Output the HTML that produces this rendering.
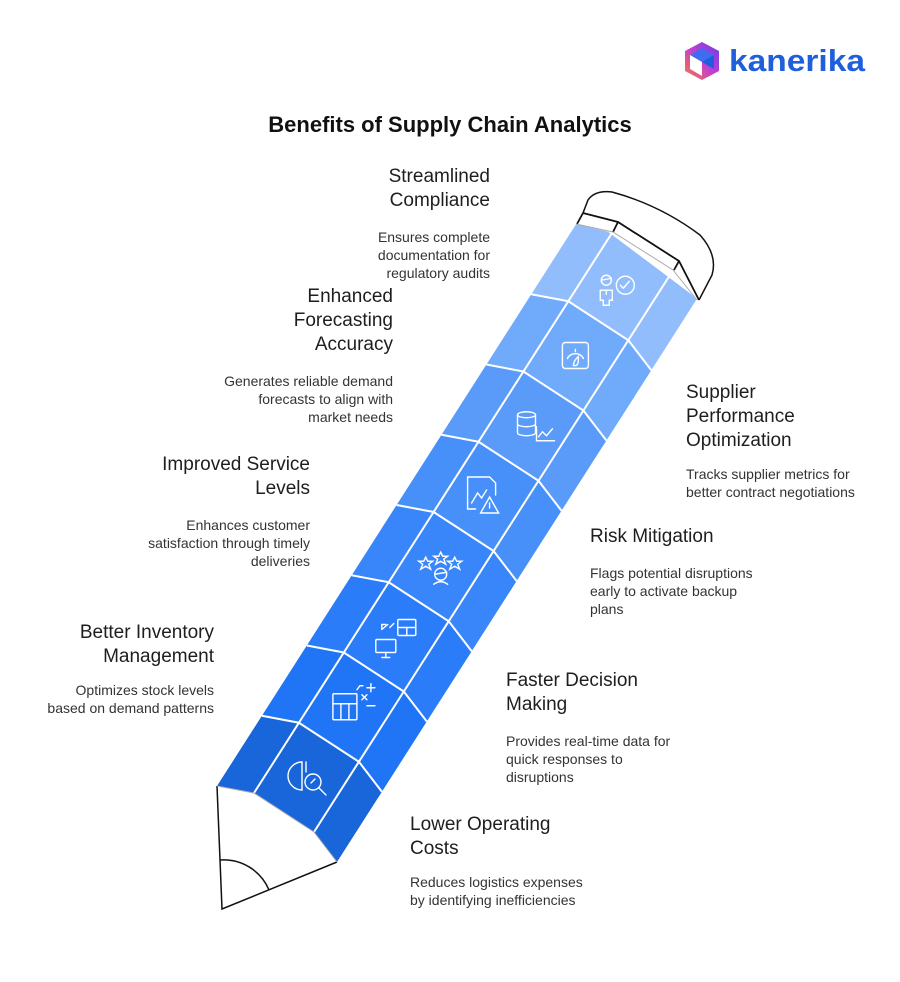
<!DOCTYPE html>
<html><head><meta charset="utf-8"><style>
body{margin:0;width:900px;height:982px;background:#fff;position:relative;overflow:hidden;font-family:"Liberation Sans",sans-serif;color:#222}
.h{position:absolute;font-size:19px;line-height:24px;color:#1e1e1e;white-space:nowrap}
.d{position:absolute;font-size:14px;line-height:18px;color:#333;white-space:nowrap}
.r{text-align:right}
</style></head><body>
<svg width="900" height="982" style="position:absolute;left:0;top:0">
<defs>
<linearGradient id="lg" x1="0" y1="1" x2="1" y2="0"><stop offset="0" stop-color="#ff7a3c"/><stop offset="0.5" stop-color="#c13fd0"/><stop offset="1" stop-color="#6a3ee8"/></linearGradient>
<polygon id="seg" points="217,786 254,793 314,832 337,862 381.9,791.75 358.9,761.75 298.9,722.75 261.9,715.75"/>
</defs>
<!-- logo -->
<polygon points="702,42 719,51 719,71 702,80 685,71 685,51" fill="url(#lg)"/>
<polygon points="702,48 714,55 714,69 702,62" fill="#1f5de0"/>
<polygon points="702,48 690,55 702,62 714,55" fill="#3f6cf0"/>
<polygon points="690,55 702,62 702,76 690,69" fill="#fff"/>
<text x="729" y="71" font-family="Liberation Sans,sans-serif" font-size="31" font-weight="bold" fill="#1f5fdc" textLength="136" lengthAdjust="spacingAndGlyphs">kanerika</text>
<text x="450" y="132" text-anchor="middle" font-family="Liberation Sans,sans-serif" font-size="22" font-weight="bold" fill="#111">Benefits of Supply Chain Analytics</text>
<!-- tip -->
<polygon points="217,786 254,793 314,832 337,862 222,909" fill="#fff"/>
<path d="M217,786 L222,909 L337,862" fill="none" stroke="#111" stroke-width="1.5"/>
<path d="M220,860 A49,49 0 0 1 269,890" fill="none" stroke="#111" stroke-width="1.5"/>
<!-- body segments -->
<use href="#seg" fill="#1866da"/>
<use href="#seg" fill="#1f75f5" transform="translate(44.9,-70.25)"/>
<use href="#seg" fill="#2a7cf8" transform="translate(89.8,-140.5)"/>
<use href="#seg" fill="#3886fa" transform="translate(134.7,-210.75)"/>
<use href="#seg" fill="#4890f9" transform="translate(179.6,-281)"/>
<use href="#seg" fill="#5a9bfa" transform="translate(224.5,-351.25)"/>
<use href="#seg" fill="#70aafb" transform="translate(269.4,-421.5)"/>
<use href="#seg" fill="#92bdfc" transform="translate(314.3,-491.75)"/>
<g stroke="#fff" stroke-width="2" fill="none">
<line x1="254" y1="793" x2="613.2" y2="231"/>
<line x1="314" y1="832" x2="673.2" y2="270"/>
<g id="cl"><polyline points="261.9,715.75 298.9,722.75 358.9,761.75 381.9,791.75"/></g>
<use href="#cl" transform="translate(44.9,-70.25)"/>
<use href="#cl" transform="translate(89.8,-140.5)"/>
<use href="#cl" transform="translate(134.7,-210.75)"/>
<use href="#cl" transform="translate(179.6,-281)"/>
<use href="#cl" transform="translate(224.5,-351.25)"/>
<use href="#cl" transform="translate(269.4,-421.5)"/>
</g>
<polyline points="217,786 254,793 314,832 337,862" fill="none" stroke="#aaa" stroke-width="1"/>
<!-- eraser -->
<polygon points="576,224 583,213 618,222 679,261 699,300 697,300 673,270 613,233" fill="#fff"/>
<path d="M583,213 L588,200 Q595,190 612,192 Q660,205 700,235 Q718,255 712,275 L699,300" fill="#fff" stroke="#111" stroke-width="1.5"/>
<g stroke="#111" stroke-width="1.8" fill="none">
<polyline points="583,213 618,222 679,261 699,300"/>
<line x1="583" y1="213" x2="577" y2="224"/><line x1="618" y1="222" x2="613" y2="232"/><line x1="679" y1="261" x2="674" y2="270"/>
</g>
<polyline points="576,224 613,232 673,270 697,300" fill="none" stroke="#aaa" stroke-width="1"/>
<!-- icons -->
<g stroke="#fff" stroke-width="1.4" fill="none" stroke-linecap="round">
<g><path d="M302,762 A14,14 0 1 0 302,790 Z M306,762 L306,772"/><circle cx="313" cy="782" r="8"/><line x1="319" y1="788" x2="326" y2="795"/><line x1="311" y1="783" x2="315" y2="779"/></g>
<g transform="translate(44.9,-70.25)"><rect x="288" y="764" width="24" height="26" rx="1"/><line x1="288" y1="774" x2="312" y2="774"/><line x1="296" y1="774" x2="296" y2="790"/><line x1="304" y1="774" x2="304" y2="790"/><path d="M312,760 l3,-4 l3,0 M317,765 l5,5 M322,765 l-5,5 M322,758 h8 M326,754 v8 M322,776 h8"/></g>
<g transform="translate(89.8,-140.5)"><path d="M292,770 l6,-5 M296,765 h-4 v4 M304,764 l-4,4"/><rect x="308" y="760" width="18" height="16" rx="1"/><line x1="308" y1="768" x2="326" y2="768"/><line x1="317" y1="768" x2="317" y2="776"/><rect x="286" y="780" width="20" height="13" rx="1"/><line x1="296" y1="793" x2="296" y2="798"/><line x1="292" y1="798" x2="300" y2="798"/></g>
<g transform="translate(134.7,-210.75)"><path d="M291,768 l2,4 l5,0 l-4,3 l2,5 l-5,-3 l-5,3 l2,-5 l-4,-3 l5,0 z M306,763 l2,4 l5,0 l-4,3 l2,5 l-5,-3 l-5,3 l2,-5 l-4,-3 l5,0 z M320,768 l2,4 l5,0 l-4,3 l2,5 l-5,-3 l-5,3 l2,-5 l-4,-3 l5,0 z"/><circle cx="306" cy="785" r="6"/><line x1="300" y1="785" x2="312" y2="783"/><path d="M299,795 Q306,790 313,795"/></g>
<g transform="translate(179.6,-281)"><path d="M296,790 h-8 v-32 h22 l6,6 v12"/><path d="M292,784 l6,-10 l4,5 l5,-8"/><path d="M310,778 l9,16 h-18 z M310,784 v5"/></g>
<g transform="translate(224.5,-351.25)"><ellipse cx="302" cy="766" rx="9" ry="3"/><path d="M293,766 v18 a9,3 0 0 0 18,0 v-18 M293,775 a9,3 0 0 0 18,0"/><path d="M312,778 v14 h18 M314,788 l4,-5 l4,4 l6,-7"/></g>
<g transform="translate(269.4,-421.5)"><rect x="293" y="764" width="26" height="26" rx="3"/><path d="M298,780 a9,9 0 0 1 16,0 M306,771 v2"/><path d="M304,787 c0,-5 5,-9 5,-9 c0,5 0,9 -3,9 z"/></g>
<g transform="translate(314.3,-491.75)"><circle cx="292" cy="772" r="5"/><line x1="287" y1="772" x2="297" y2="770"/><path d="M286,792 v-10 h12 v10 h-3 v5 h-6 v-5 z M292,782 v4"/><circle cx="311" cy="777" r="9"/><path d="M306,777 l3,3 l6,-7"/></g>
</g>
</svg>
<div class="h r" style="right:410px;top:165px">Streamlined<br>Compliance</div>
<div class="d r" style="right:410px;top:228px">Ensures complete<br>documentation for<br>regulatory audits</div>
<div class="h r" style="right:507px;top:285px">Enhanced<br>Forecasting<br>Accuracy</div>
<div class="d r" style="right:507px;top:372px">Generates reliable demand<br>forecasts to align with<br>market needs</div>
<div class="h r" style="right:590px;top:453px">Improved Service<br>Levels</div>
<div class="d r" style="right:590px;top:516px">Enhances customer<br>satisfaction through timely<br>deliveries</div>
<div class="h r" style="right:686px;top:621px">Better Inventory<br>Management</div>
<div class="d r" style="right:686px;top:681px">Optimizes stock levels<br>based on demand patterns</div>
<div class="h" style="left:686px;top:381px">Supplier<br>Performance<br>Optimization</div>
<div class="d" style="left:686px;top:465px">Tracks supplier metrics for<br>better contract negotiations</div>
<div class="h" style="left:590px;top:525px">Risk Mitigation</div>
<div class="d" style="left:590px;top:564px">Flags potential disruptions<br>early to activate backup<br>plans</div>
<div class="h" style="left:506px;top:669px">Faster Decision<br>Making</div>
<div class="d" style="left:506px;top:732px">Provides real-time data for<br>quick responses to<br>disruptions</div>
<div class="h" style="left:410px;top:813px">Lower Operating<br>Costs</div>
<div class="d" style="left:410px;top:873px">Reduces logistics expenses<br>by identifying inefficiencies</div>
</body></html>
